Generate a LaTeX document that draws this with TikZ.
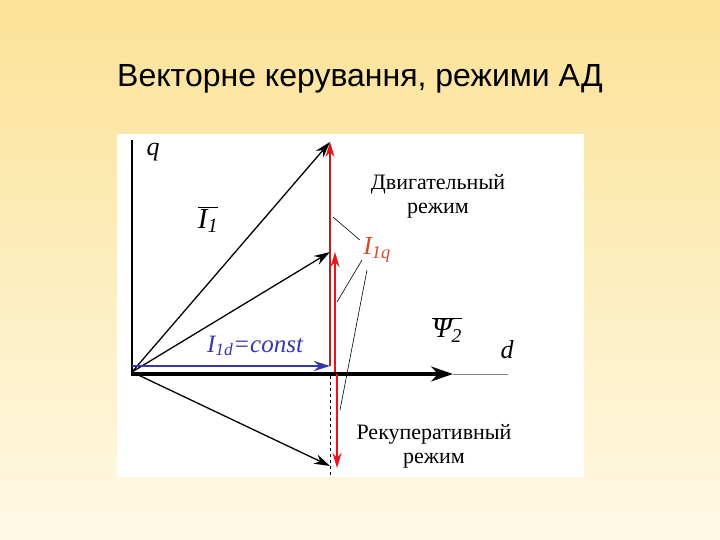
\documentclass[tikz,border=0pt]{standalone}
\usepackage{fontspec}
\setmainfont{Liberation Serif}
\newfontfamily\titlefont{Liberation Sans}
\usetikzlibrary{arrows.meta}
\definecolor{bgtop}{RGB}{251,226,150}
\definecolor{bgbot}{RGB}{255,249,230}
\definecolor{vecblue}{RGB}{55,55,175}
\definecolor{vecred}{RGB}{232,20,25}
\definecolor{linered}{RGB}{175,35,30}
\definecolor{labred}{RGB}{210,75,45}

\begin{document}
\begin{tikzpicture}[x=1pt,y=-1pt,
  vec/.style={line width=1.3pt,-{Stealth[length=16pt,width=10pt]}},
  redvec/.style={vecred,line width=2.4pt,-{Stealth[length=15pt,width=9pt]}},
  lbl/.style={font=\fontsize{26}{28}\selectfont\itshape},
  mode/.style={font=\fontsize{22}{24}\selectfont,align=center}]
\useasboundingbox (0,0) rectangle (720,540);
\shade[top color=bgtop,bottom color=bgbot] (0,0) rectangle (720,540);
\fill[white] (117,134) rectangle (584,477);
\node[font=\titlefont\fontsize{32}{34}\selectfont] (title) at (360,79) {Векторне керування, режими АД};

% points of the diagram
\coordinate (O) at (132,372);
\coordinate (qtop) at (132,140);
\coordinate (dtip) at (453,374);
\coordinate (dend) at (508,374);
\coordinate (Dtop) at (330,142);
\coordinate (Dmid) at (330,252);
\coordinate (Dlow) at (330,466);
\coordinate (Bend) at (330,366);
\coordinate (Dcut) at (330,477);

% axes
\path[draw,line width=2pt] (qtop) -- (132,375);
\path[draw,gray,line width=1pt] (dtip) -- (dend);
\path[draw,line width=3.4pt,-{Stealth[length=22pt,width=15pt]}] (131,374) -- (dtip);
\path[draw,dashed,line width=0.7pt] (330,376) -- (Dcut);

% current vectors
\path[draw,vec] (O) -- (Dtop);
\path[draw,vec] (O) -- (Dmid);
\path[draw,vec] (O) -- (Dlow);
\path[draw,vecblue,line width=2.8pt,-{Stealth[length=16pt,width=10pt]}] (132,366) -- (Bend);
\path[draw,linered,line width=1.5pt,-{Stealth[length=15pt,width=9pt,vecred]}] (Bend) -- (Dtop);
\path[draw,redvec] (335,372) -- (335,252);
\path[draw,redvec] (337,374) -- (337,468);

% labels
\node[lbl] (q) at (153,152) {q};
\node[lbl,font=\fontsize{29}{31}\selectfont\itshape] (I1) at (208,220) {$\overline{\mbox{\itshape I\textsubscript{1}}}$};
\node[lbl,vecblue,font=\fontsize{25}{27}\selectfont\itshape] (I1d) at (255,346) {I\textsubscript{1d}=const};
\node[lbl,font=\fontsize{28}{30}\selectfont\itshape] (Psi) at (447,330) {$\overline{\mbox{\itshape Ψ\textsubscript{2}}}$};
\node[lbl] (d) at (507,350) {d};
\node[lbl,labred] (I1q) at (377,250) {I\textsubscript{1q}};
\node[mode] (motor) at (438,196) {Двигательный\\режим};
\node[mode] (regen) at (434,446) {Рекуперативный\\режим};

% leaders to I1q
\path[draw,line width=0.6pt] (333,217) -- (I1q.west|-0,240);
\path[draw,line width=0.6pt] (337,302) -- (362,260);
\path[draw,line width=0.6pt] (367,270) -- (340,410);
\end{tikzpicture}
\end{document}
